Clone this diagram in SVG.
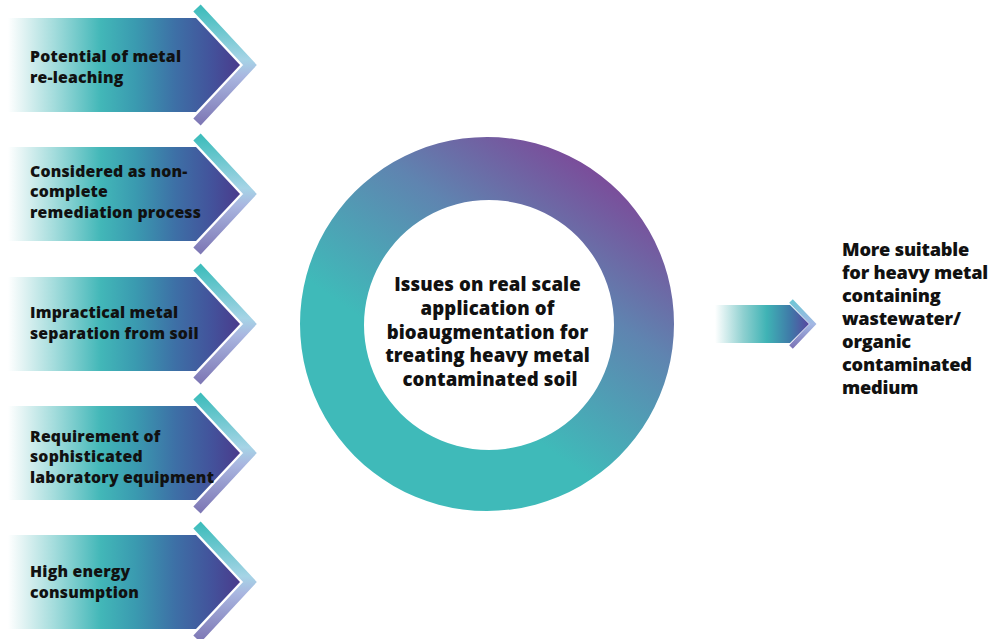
<svg xmlns="http://www.w3.org/2000/svg" width="999" height="639" viewBox="0 0 999 639">
  <defs>
    <!-- arrow body: white fade on the left, teal through blue to violet at the tip -->
    <linearGradient id="bodyGrad" x1="0" y1="0" x2="1" y2="0">
      <stop offset="0" stop-color="#ffffff"/>
      <stop offset="0.06" stop-color="#e4f4f4"/>
      <stop offset="0.2" stop-color="#a3dcdc"/>
      <stop offset="0.4" stop-color="#42b7b8"/>
      <stop offset="0.55" stop-color="#3a9ab0"/>
      <stop offset="0.72" stop-color="#3d70a6"/>
      <stop offset="0.88" stop-color="#43529b"/>
      <stop offset="1" stop-color="#4a3b8c"/>
    </linearGradient>
    <!-- chevron band: teal top arm, pale blue tip, lavender bottom arm -->
    <linearGradient id="chevGrad" x1="0" y1="0" x2="0" y2="1">
      <stop offset="0" stop-color="#3fbdbc"/>
      <stop offset="0.45" stop-color="#a6d4e6"/>
      <stop offset="0.6" stop-color="#a9b6e0"/>
      <stop offset="1" stop-color="#7f79b6"/>
    </linearGradient>
    <linearGradient id="smallBodyGrad" x1="0" y1="0" x2="1" y2="0">
      <stop offset="0" stop-color="#ffffff"/>
      <stop offset="0.3" stop-color="#8fd0d0"/>
      <stop offset="0.55" stop-color="#3fb3b5"/>
      <stop offset="0.8" stop-color="#3f7aa8"/>
      <stop offset="1" stop-color="#5846a0"/>
    </linearGradient>
    <linearGradient id="smallChevGrad" x1="0" y1="0" x2="0" y2="1">
      <stop offset="0" stop-color="#6fc6d6"/>
      <stop offset="0.5" stop-color="#a4b8e4"/>
      <stop offset="1" stop-color="#7d76b8"/>
    </linearGradient>
    <!-- ring: violet at the upper right, teal at the lower left -->
    <linearGradient id="ringGrad" x1="0.8" y1="0.08" x2="0.4" y2="0.65">
      <stop offset="0" stop-color="#7c4a99"/>
      <stop offset="0.45" stop-color="#5f84b0"/>
      <stop offset="1" stop-color="#3fbab9"/>
    </linearGradient>
    <!-- one arrow shape centred on y = 0 -->
    <g id="issueArrow">
      <polygon points="8,-47 196,-47 240,0 196,47 8,47" fill="url(#bodyGrad)"/>
      <polyline points="197,-57 250,0 197,57" fill="none" stroke="url(#chevGrad)" stroke-width="10" stroke-linejoin="miter"/>
    </g>
  </defs>
  <style>
    .lbl { font-family: "Open Sans", "Lato", "Liberation Sans", sans-serif; font-weight: 800; fill: #111111; }
    .issue { font-size: 15.8px; letter-spacing: 0.2px; }
    .core { font-size: 18.6px; text-anchor: middle; letter-spacing: 0.1px; }
    .result { font-size: 18.2px; letter-spacing: -0.2px; }
  </style>

  <rect width="999" height="639" fill="#ffffff"/>

  <!-- left column of issue arrows -->
  <g id="issue-releaching">
    <use href="#issueArrow" transform="translate(0,65)"/>
    <text class="lbl issue" x="30"><tspan x="30" y="62">Potential of metal</tspan><tspan x="30" y="82.6">re-leaching</tspan></text>
  </g>
  <g id="issue-noncomplete">
    <use href="#issueArrow" transform="translate(0,194)"/>
    <text class="lbl issue" x="30"><tspan x="30" y="176.5">Considered as non-</tspan><tspan x="30" y="197.1">complete</tspan><tspan x="30" y="217.7">remediation process</tspan></text>
  </g>
  <g id="issue-separation">
    <use href="#issueArrow" transform="translate(0,324)"/>
    <text class="lbl issue" x="30"><tspan x="30" y="318">Impractical metal</tspan><tspan x="30" y="338.6">separation from soil</tspan></text>
  </g>
  <g id="issue-equipment">
    <use href="#issueArrow" transform="translate(0,453)"/>
    <text class="lbl issue" x="30"><tspan x="30" y="441.5">Requirement of</tspan><tspan x="30" y="462.1">sophisticated</tspan><tspan x="30" y="482.7">laboratory equipment</tspan></text>
  </g>
  <g id="issue-energy">
    <use href="#issueArrow" transform="translate(0,582)"/>
    <text class="lbl issue" x="30"><tspan x="30" y="577">High energy</tspan><tspan x="30" y="597.6">consumption</tspan></text>
  </g>

  <!-- central ring -->
  <g id="core-issue">
    <path fill="url(#ringGrad)" fill-rule="evenodd"
          d="M487,137 a187,187 0 1,0 0.01,0 Z M489,200 a125,125 0 1,1 -0.01,0 Z"/>
    <text class="lbl core">
      <tspan x="490" y="291">Issues on real scale</tspan>
      <tspan x="490" y="314.75">application of</tspan>
      <tspan x="490" y="338.5">bioaugmentation for</tspan>
      <tspan x="490" y="362.25">treating heavy metal</tspan>
      <tspan x="490" y="386">contaminated soil</tspan>
    </text>
  </g>

  <!-- arrow from the ring to the conclusion -->
  <g id="connectors">
    <polygon points="715,305 790,305 809,324 790,343 715,343" fill="url(#smallBodyGrad)"/>
    <polyline points="791,301 813,324 791,347" fill="none" stroke="url(#smallChevGrad)" stroke-width="5"/>
  </g>

  <!-- conclusion -->
  <g id="conclusion">
    <text class="lbl result">
      <tspan x="842" y="256">More suitable</tspan>
      <tspan x="842" y="279">for heavy metal</tspan>
      <tspan x="842" y="302">containing</tspan>
      <tspan x="842" y="325">wastewater/</tspan>
      <tspan x="842" y="348">organic</tspan>
      <tspan x="842" y="371">contaminated</tspan>
      <tspan x="842" y="394">medium</tspan>
    </text>
  </g>
</svg>
